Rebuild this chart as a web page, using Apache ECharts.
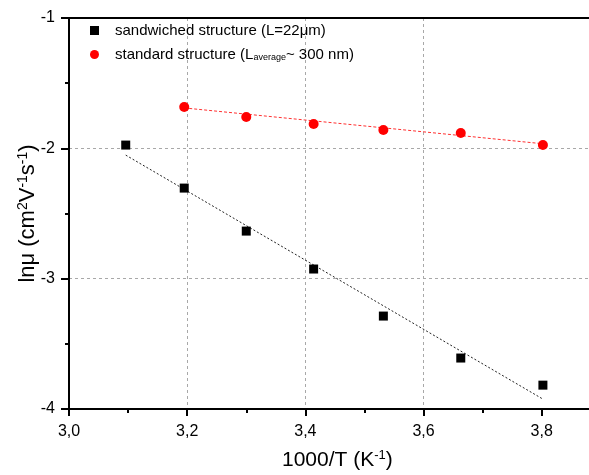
<!DOCTYPE html>
<html><head><meta charset="utf-8">
<script src="https://cdn.jsdelivr.net/npm/echarts@6/dist/echarts.min.js"></script>
<style>html,body{margin:0;padding:0;background:#fff}#c{width:589px;height:475px}</style>
</head><body><div id="c"></div>
<script>
// data
const sandwichX = [3.096, 3.195, 3.300, 3.414, 3.532, 3.663, 3.802];
const sandwichY = [-1.975, -2.305, -2.635, -2.926, -3.287, -3.609, -3.817];
const standardX = [3.195, 3.300, 3.414, 3.532, 3.663, 3.802];
const standardY = [-1.683, -1.760, -1.813, -1.860, -1.883, -1.975];
const sandwichFitX = [3.096, 3.802];
const sandwichFitY = [-2.052, -3.924];
const standardFitX = [3.195, 3.802];
const standardFitY = [-1.690, -1.965];
const xTicks = [3.0, 3.2, 3.4, 3.6, 3.8];
const yTicks = [-4, -3, -2, -1];

const pairs = (xs, ys) => xs.map((x, i) => [x, ys[i]]);
const FONT = '"Liberation Sans", Arial, sans-serif';
const chart = echarts.init(document.getElementById('c'), null, {renderer: 'canvas'});
const gridDash = {color: '#a8a8a8', type: [3, 3], width: 1};

chart.setOption({
  animation: false,
  textStyle: {fontFamily: FONT},
  grid: {left: 69, right: 0, top: 18, bottom: 66, containLabel: false},
  legend: {
    orient: 'vertical', left: 85, top: 18, itemGap: 9,
    itemWidth: 9, itemHeight: 9,
    data: [
      {name: 'sandwiched', icon: 'rect'},
      {name: 'standard', icon: 'circle'}
    ],
    formatter: n => n === 'sandwiched'
      ? '{t|sandwiched structure (L=22μm)}'
      : '{t|standard structure (L}{s|average}{t|~ 300 nm)}',
    textStyle: {
      fontFamily: FONT, color: '#000', padding: [0, 0, 0, 11],
      rich: {
        t: {fontSize: 15, fontFamily: FONT, color: '#000'},
        s: {fontSize: 9, fontFamily: FONT, color: '#000', verticalAlign: 'bottom', padding: [6, 0, 0, 0]}
      }
    }
  },
  xAxis: [{
    type: 'value', min: 3.0, max: 3.88, interval: 0.2,
    axisLine: {show: true, lineStyle: {color: '#000', width: 2}},
    axisTick: {show: true, inside: false, length: 7, lineStyle: {color: '#000', width: 2}, customValues: xTicks},
    minorTick: {show: true, splitNumber: 2, length: 4, lineStyle: {color: '#000', width: 2}},
    splitLine: {show: true, lineStyle: gridDash, showMaxLine: false, showMinLine: false},
    axisLabel: {
      fontSize: 16, color: '#000', margin: 15, fontFamily: FONT, customValues: xTicks,
      formatter: v => v.toFixed(1).replace('.', ',')
    }
  }, {
    type: 'value', min: 3.0, max: 3.88, position: 'top',
    axisLine: {show: true, lineStyle: {color: '#000', width: 2}},
    axisTick: {show: false}, axisLabel: {show: false}, splitLine: {show: false}
  }],
  yAxis: {
    type: 'value', min: -4, max: -1, interval: 1,
    axisLine: {show: true, lineStyle: {color: '#000', width: 2}},
    axisTick: {show: true, inside: false, length: 8, lineStyle: {color: '#000', width: 2}},
    minorTick: {show: true, splitNumber: 2, length: 4, lineStyle: {color: '#000', width: 2}},
    splitLine: {show: true, lineStyle: gridDash, showMaxLine: false, showMinLine: false},
    axisLabel: {
      fontSize: 16, color: '#000', margin: 14, fontFamily: FONT,
      formatter: v => yTicks.includes(v) ? String(v) : ''
    },
    name: '{t|lnμ (cm}{p|2}{t|V}{p|-1}{t|s}{p|-1}{t|)}',
    nameLocation: 'middle', nameRotate: 90, nameGap: 30, nameMoveOverlap: false,
    nameTextStyle: {
      rich: {
        t: {fontSize: 22, fontFamily: FONT, color: '#000'},
        p: {fontSize: 14, fontFamily: FONT, color: '#000', verticalAlign: 'top', padding: [0, 0, 9, 0]}
      }
    }
  },
  graphic: [{
    type: 'text', left: 282, top: 449,
    style: {
      text: '{t|1000/T (K}{p|-1}{t|)}',
      rich: {
        t: {fontSize: 21, fontFamily: FONT, fill: '#000'},
        p: {fontSize: 13, fontFamily: FONT, fill: '#000', verticalAlign: 'top', padding: [0, 0, 9, 0]}
      }
    }
  }],
  series: [
    {name: 'sandwichedFit', type: 'line', data: pairs(sandwichFitX, sandwichFitY), symbol: 'none',
     lineStyle: {color: '#222', width: 1, type: [2, 2]}, z: 2},
    {name: 'standardFit', type: 'line', data: pairs(standardFitX, standardFitY), symbol: 'none',
     lineStyle: {color: '#ff3030', width: 1, type: [3, 2]}, z: 2},
    {name: 'sandwiched', type: 'scatter', data: pairs(sandwichX, sandwichY), symbol: 'rect', symbolSize: 9,
     itemStyle: {color: '#000', opacity: 1}, z: 3},
    {name: 'standard', type: 'scatter', data: pairs(standardX, standardY), symbol: 'circle', symbolSize: 10,
     itemStyle: {color: '#ff0000', opacity: 1}, z: 3}
  ]
});
</script></body></html>
